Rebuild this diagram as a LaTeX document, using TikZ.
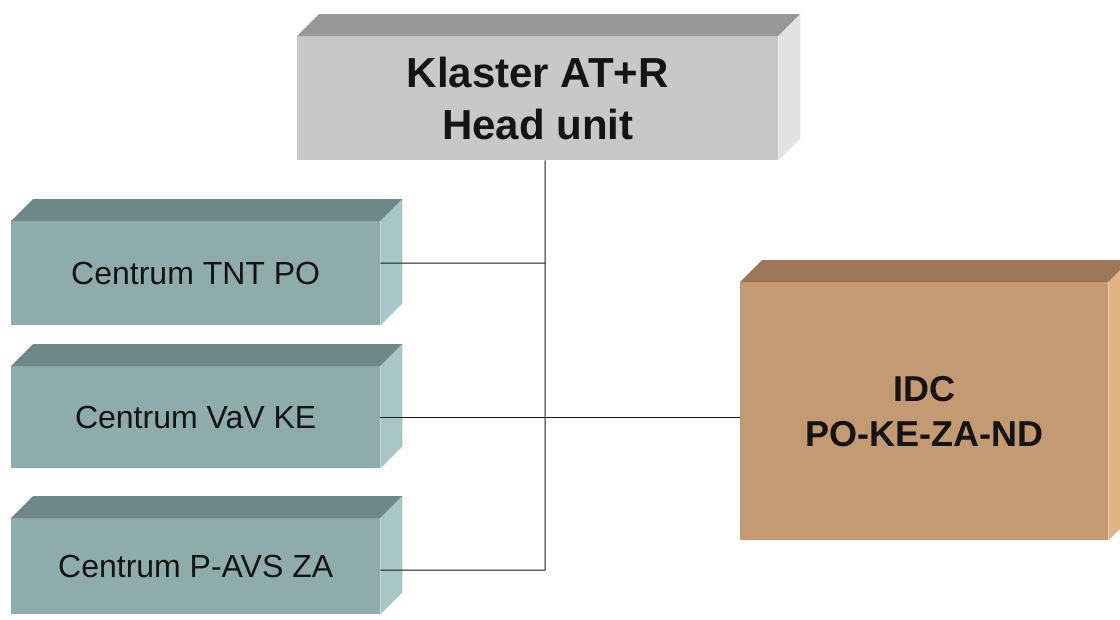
\documentclass[tikz,border=0pt]{standalone}
\usepackage{fontspec}
\setmainfont{Liberation Sans}
\definecolor{headF}{HTML}{C8C8C8}
\definecolor{headT}{HTML}{979797}
\definecolor{headS}{HTML}{E2E2E2}
\definecolor{tealF}{HTML}{8FACAC}
\definecolor{tealT}{HTML}{6E8888}
\definecolor{tealS}{HTML}{A8C6C6}
\definecolor{idcF}{HTML}{C49A72}
\definecolor{idcT}{HTML}{9B7757}
\definecolor{idcS}{HTML}{E3B387}
\newcommand{\boxfaces}[3]{%
  \fill[#2] (#1.north west) -- ([shift={(22,-22)}]#1.north west) -- ([shift={(22,-22)}]#1.north east) -- (#1.north east) -- cycle;
  \fill[#3] (#1.north east) -- ([shift={(22,-22)}]#1.north east) -- ([shift={(22,-22)}]#1.south east) -- (#1.south east) -- cycle;}
\begin{document}
\begin{tikzpicture}[x=1pt,y=-1pt,
  front/.style={anchor=north west, inner sep=0pt, align=center, text=black!92},
  unitbox/.style={front, fill=tealF, minimum width=369pt, font=\fontsize{32}{38}\selectfont},
  conn/.style={draw=black!90, line width=1pt}]
\useasboundingbox[fill=white] (0,0) rectangle (1120,619);
% head unit
\node[front, fill=headF, minimum width=481pt, minimum height=124pt,
  font=\bfseries\fontsize{42}{52}\selectfont] (head) at (297,36) {Klaster AT+R\\Head unit};
\boxfaces{head}{headT}{headS}
% centres
\node[unitbox, minimum height=104pt] (tnt) at (11,221) {Centrum TNT PO};
\boxfaces{tnt}{tealT}{tealS}
\node[unitbox, minimum height=102pt] (vav) at (11,366) {Centrum VaV KE};
\boxfaces{vav}{tealT}{tealS}
\node[unitbox, minimum height=96pt] (pavs) at (11,518) {Centrum P-AVS ZA};
\boxfaces{pavs}{tealT}{tealS}
% IDC
\node[front, fill=idcF, minimum width=368pt, minimum height=258pt,
  font=\bfseries\fontsize{36}{45}\selectfont] (idc) at (740,282) {IDC\\PO-KE-ZA-ND};
\boxfaces{idc}{idcT}{idcS}
% connectors
\coordinate (jt) at (545,263);
\coordinate (jp) at (545,570);
\draw[conn] ([xshift=7.5pt]head.south) -- (jp);
\draw[conn] ([yshift=10pt]tnt.east) -- (jt);
\draw[conn] (vav.east) -- (vav.east -| idc.west);
\draw[conn] ([yshift=-4pt]pavs.east) -- (jp);
\end{tikzpicture}
\end{document}
